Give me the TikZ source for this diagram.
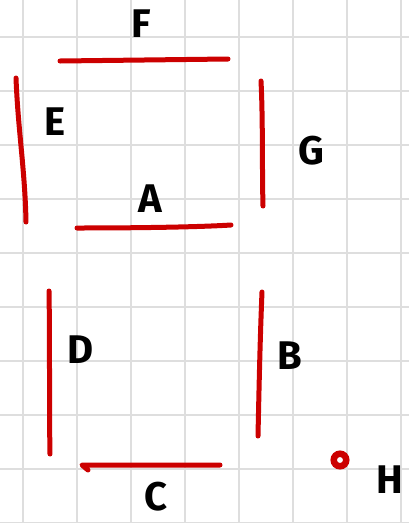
\documentclass[tikz,border=0pt]{standalone}
\usepackage{fontspec}
\setmainfont{Fira Sans}
\definecolor{gridgray}{RGB}{222,222,222}
\definecolor{segred}{RGB}{204,0,0}
\tikzset{
  gridline/.style={draw=gridgray, line width=1.6pt},
  segment/.style={draw=segred, line width=5pt, line cap=round, line join=round},
  letter/.style={font=\fontsize{40}{44}\selectfont\bfseries, text=black, inner sep=0pt}
}
\begin{document}
\begin{tikzpicture}[x=1pt,y=-1pt]
\useasboundingbox (0,0) rectangle (409,523);
\clip (0,0) rectangle (409,523);
\fill[white] (0,0) rectangle (409,523);
% grid
\foreach \i in {0,...,7} \draw[gridline] (23+54*\i,0) -- (23+54*\i,523);
\foreach \j in {0,...,9} \draw[gridline] (0,37+54*\j) -- (409,37+54*\j);
% segment end points
\coordinate (f1) at (60,61); \coordinate (f2) at (228,59);
\coordinate (e1) at (16,78); \coordinate (e2) at (26,222);
\coordinate (g1) at (261,81); \coordinate (g2) at (263,206);
\coordinate (a1) at (77,228); \coordinate (a2) at (231,225);
\coordinate (d1) at (49,291); \coordinate (d2) at (50,454);
\coordinate (b1) at (262,292); \coordinate (b2) at (258,436);
\coordinate (c1) at (220,465); \coordinate (c2) at (82,465);
\coordinate (c3) at (88,470);
% segments
\draw[segment] (f1) -- (f2);
\draw[segment] (e1) .. controls (18,130) and (25,170) .. (e2);
\draw[segment] (g1) .. controls (263,120) and (262,170) .. (g2);
\draw[segment] (a1) .. controls (140,228) and (200,227) .. (a2);
\draw[segment] (d1) .. controls (50,350) and (49,400) .. (d2);
\draw[segment] (b1) .. controls (260,340) and (259,390) .. (b2);
\draw[segment] (c1) -- (c2) -- (c3);
\node[circle, draw=segred, line width=6.5pt, minimum size=12.5pt, inner sep=0pt] (hdot) at (340,460) {};
% labels
\node[letter] (lf) at (141,24) {F};
\node[letter] (le) at (55,122) {E};
\node[letter] (lg) at (311,151) {G};
\node[letter] (la) at (150,199) {A};
\node[letter] (ld) at (81,350) {D};
\node[letter] (lb) at (290,356) {B};
\node[letter] (lc) at (156,497) {C};
\node[letter] (lh) at (390,480) {H};
\end{tikzpicture}
\end{document}
